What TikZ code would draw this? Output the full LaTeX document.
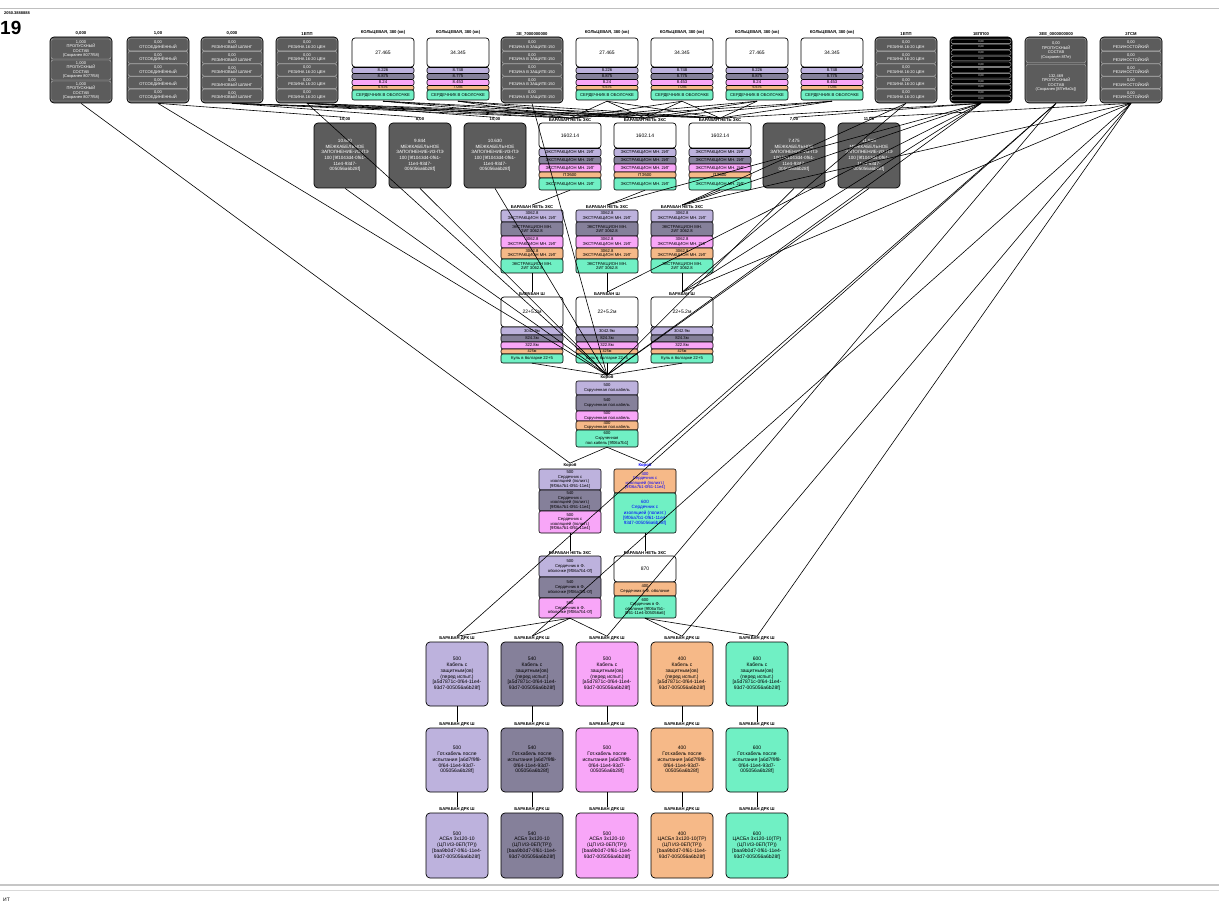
\documentclass[tikz,border=0pt]{standalone}
\usepackage{fontspec}
\setmainfont{Liberation Sans}
\usetikzlibrary{positioning}
\definecolor{lav}{HTML}{BDB2DD}
\definecolor{gp}{HTML}{85809A}
\definecolor{pk}{HTML}{F8A6F8}
\definecolor{org}{HTML}{F6B988}
\definecolor{tl}{HTML}{70F0C4}
\definecolor{dkg}{HTML}{5C5C5C}
\definecolor{frm}{HTML}{B4B4B4}

\begin{document}
\begin{tikzpicture}[x=1pt,y=-1pt,
lbl/.style={font=\fontsize{4.2}{4.6}\selectfont\bfseries,inner sep=0.4pt},
grp/.style={minimum width=62pt,inner sep=0pt},
dkbox/.style={draw,rounded corners=4pt,line width=0.7pt,fill=dkg,text=white,minimum width=62pt,inner sep=0pt,align=center,font=\fontsize{4.6}{5.6}\selectfont},
sub/.style={draw=frm,rounded corners=2pt,line width=0.4pt,fill=dkg,text=white,minimum width=60pt,inner sep=0pt,align=center,font=\fontsize{4}{4.6}\selectfont},
wtop/.style={draw,rounded corners=3pt,line width=0.7pt,fill=white,minimum width=62pt,inner sep=0pt,font=\fontsize{5}{6}\selectfont},
strip/.style={draw,rounded corners=2pt,line width=0.6pt,minimum width=62pt,inner sep=0pt,align=center,font=\fontsize{4.2}{4.6}\selectfont},
big/.style={draw,rounded corners=4pt,line width=0.7pt,minimum width=62pt,minimum height=64pt,inner sep=0pt,align=center,font=\fontsize{5}{5.8}\selectfont},
wire/.style={line width=0.6pt}]
\useasboundingbox (0,0) rectangle (1219,904);

% window frame
\draw[gray!50,line width=0.8pt] (0,8) -- (1219,8);
\node[anchor=west,font=\fontsize{4}{4}\selectfont\bfseries,inner sep=0pt] (ttl) at (4,13) {2050.3888888};
\node[anchor=west,font=\fontsize{19}{19}\selectfont\bfseries,inner sep=0pt] (num) at (0,28) {19};
\draw[gray!45,line width=1.6pt] (0,885) -- (1219,885);
\draw[gray!30,line width=1pt] (0,890) -- (1219,890);
\node[anchor=west,font=\fontsize{5}{5}\selectfont,inner sep=0pt] (itg) at (3,900) {ИТ};

% top row: grey stores with five parts
\foreach \nm/\x/\lab/\txt in {t2/158/{1,00}/{ОТСОЕДИНЁННЫЙ},t3/232/{0,000}/{РЕЗИНОВЫЙ ШЛАНГ},
  t4/307/{1ЕПП}/{РЕЗИНА 16-20 ЦЕН},t7/532/{ЗЕ\_7000000000}/{РЕЗИНА В ЗАЩИТЕ-150},
  t12/906/{1ЕПП}/{РЕЗИНА 16-20 ЦЕН},t15/1131/{2ГСМ}/{РЕЗИНОСТОЙКИЙ}}{
  \node[dkbox,minimum height=66pt] (\nm) at (\x,70) {};
  \node[lbl,above=0.5pt of \nm] (\nm-l) {\lab};
  \foreach \y [count=\i] in {44.8,57.4,70,82.6,95.2}
    \node[sub,minimum height=12pt] (\nm-\i) at (\x,\y) {0,00\\\txt};
}
% top row: three part store
\node[dkbox,minimum height=66pt] (t1) at (81,70) {};
\node[lbl,above=0.5pt of t1] (t1-l) {0,000};
\foreach \y [count=\i] in {49,70,91}
  \node[sub,minimum height=20pt] (t1-\i) at (81,\y) {1,000\\ПРОПУСКНЫЙ\\СОСТАВ\\(Сохранен 8077f58)};
% top row: striped store
\node[dkbox,fill=black,minimum height=66pt] (t13) at (981,70) {};
\node[lbl,above=0.5pt of t13] (t13-l) {1ЕПП00};
\foreach \y [count=\i] in {41.4,47.1,52.8,58.6,64.3,70.0,75.7,81.4,87.2,92.9,98.6}
  \node[sub,fill=black,draw=white!75!black,minimum height=4.6pt,font=\fontsize{2.8}{3}\selectfont] (t13-\i) at (981,\y) {0,00};
% top row: two part store
\node[dkbox,minimum height=66pt] (t14) at (1056,70) {};
\node[lbl,above=0.5pt of t14] (t14-l) {ЗЕЕ\_0000000000};
\node[sub,minimum height=24pt] (t14-1) at (1056,50.5) {0,00\\ПРОПУСКНЫЙ\\СОСТАВ\\(Сохранен 8f7e)};
\node[sub,minimum height=37pt] (t14-2) at (1056,83) {132,469\\ПРОПУСКНЫЙ\\СОСТАВ\\(Сохранен [8f7e9a0c])};

% top row: white drums
\foreach \nm/\x/\val/\va/\vb/\vc/\vd in {t5/383/27.465/8.226/8.875/8.24/6.676,t6/458/34.345/8.748/8.775/8.453/7.036,
  t8/607/27.465/8.226/8.875/8.24/6.676,t9/682/34.345/8.748/8.775/8.453/7.036,
  t10/757/27.465/8.226/8.875/8.24/6.676,t11/832/34.345/8.748/8.775/8.453/7.036}{
  \node[grp,minimum height=64pt] (\nm) at (\x,69) {};
  \node[lbl,above=1.5pt of \nm] (\nm-l) {КОЛЬЦЕВАЯ, 380 (кв)};
  \node[wtop,minimum height=29pt] (\nm-w) at (\x,52.5) {\val};
  \node[strip,fill=lav,minimum height=6pt] (\nm-1) at (\x,70.5) {\va};
  \node[strip,fill=gp,minimum height=6pt] (\nm-2) at (\x,76.5) {\vb};
  \node[strip,fill=pk,minimum height=6pt] (\nm-3) at (\x,82.5) {\vc};
  \node[strip,fill=org,minimum height=4.5pt,font=\fontsize{3.6}{4}\selectfont] (\nm-4) at (\x,87.75) {\vd};
  \node[strip,fill=tl,minimum height=10pt] (\nm-5) at (\x,95) {СЕРДЕЧНИК В ОБОЛОЧКЕ};
}

% second row: filler stores
\foreach \nm/\x/\lab/\val in {s1/345/{10,00}/10.630,s2/420/{8,00}/9.844,s3/495/{10,00}/10.630,
  s7/794/{7,00}/7.475,s8/869/{11,00}/11.915}{
  \node[dkbox,minimum height=65pt] (\nm) at (\x,155.5) {\val\\МЕЖКАБЕЛЬНОЕ\\ЗАПОЛНЕНИЕ-ИЗ-ПЭ\\100 [9f1043d4-0f61-\\11e4-93d7-\\005056a6b28f]};
  \node[lbl,above=0.5pt of \nm] (\nm-l) {\lab};
}
% second row: drums
\foreach \nm/\x in {s4/570,s5/645,s6/720}{
  \node[grp,minimum height=67pt] (\nm) at (\x,156.5) {};
  \node[lbl,above=0.5pt of \nm] (\nm-l) {БАРАБАН НЕТЬ ЗКС};
  \node[wtop,minimum height=25pt] (\nm-w) at (\x,135.5) {1602.14};
  \node[strip,fill=lav,minimum height=8pt] (\nm-1) at (\x,152.5) {ЭКСТРАКЦИОН МН. 2ИГ};
  \node[strip,fill=gp,minimum height=7.5pt] (\nm-2) at (\x,160.25) {ЭКСТРАКЦИОН МН. 2ИГ};
  \node[strip,fill=pk,minimum height=8pt] (\nm-3) at (\x,168) {ЭКСТРАКЦИОН МН. 2ИГ};
  \node[strip,fill=org,minimum height=6pt] (\nm-4) at (\x,175) {ПЭ500};
  \node[strip,fill=tl,minimum height=12pt] (\nm-5) at (\x,184) {ЭКСТРАКЦИОН МН. 2ИГ};
}

% third row
\foreach \nm/\x in {c1/532,c2/607,c3/682}{
  \node[grp,minimum height=63pt] (\nm) at (\x,241.5) {};
  \node[lbl,above=0.5pt of \nm] (\nm-l) {БАРАБАН НЕТЬ ЗКС};
  \node[strip,fill=lav,minimum height=12pt] (\nm-1) at (\x,216) {3062.8\\ЭКСТРАКЦИОН МН. 2ИГ};
  \node[strip,fill=gp,minimum height=14pt] (\nm-2) at (\x,229) {ЭКСТРАКЦИОН МН.\\2ИГ 3062.8};
  \node[strip,fill=pk,minimum height=12pt] (\nm-3) at (\x,242) {3062.8\\ЭКСТРАКЦИОН МН. 2ИГ};
  \node[strip,fill=org,minimum height=11pt] (\nm-4) at (\x,253.5) {3062.8\\ЭКСТРАКЦИОН МН. 2ИГ};
  \node[strip,fill=tl,minimum height=14pt] (\nm-5) at (\x,266) {ЭКСТРАКЦИОН МН.\\2ИГ 3062.8};
}

% fourth row
\foreach \nm/\x in {d1/532,d2/607,d3/682}{
  \node[grp,minimum height=66pt] (\nm) at (\x,330) {};
  \node[lbl,above=0.5pt of \nm] (\nm-l) {БАРАБАН Ш};
  \node[wtop,minimum height=30pt] (\nm-w) at (\x,312) {22+5.2м};
  \node[strip,fill=lav,minimum height=8pt] (\nm-1) at (\x,331) {3042.9м};
  \node[strip,fill=gp,minimum height=7pt] (\nm-2) at (\x,338.5) {824.3м};
  \node[strip,fill=pk,minimum height=7pt] (\nm-3) at (\x,345.5) {322.8м};
  \node[strip,fill=org,minimum height=5pt,font=\fontsize{3.8}{4}\selectfont] (\nm-4) at (\x,351.5) {425м};
  \node[strip,fill=tl,minimum height=9pt] (\nm-5) at (\x,358.5) {Куль в болгарке 22+5};
}

% box
\node[grp,minimum height=66pt] (kb) at (607,414) {};
\node[lbl,above=0.5pt of kb] (kb-l) {Короб};
\node[strip,fill=lav,minimum height=14pt] (kb-1) at (607,388) {500\\Скрученная пол.кабель};
\node[strip,fill=gp,minimum height=16pt] (kb-2) at (607,403) {540\\Скрученная пол.кабель};
\node[strip,fill=pk,minimum height=10pt] (kb-3) at (607,416) {500\\Скрученная пол.кабель};
\node[strip,fill=org,minimum height=9pt] (kb-4) at (607,425.5) {400\\Скрученная пол.кабель};
\node[strip,fill=tl,minimum height=17pt] (kb-5) at (607,438.5) {600\\Скрученная\\пол.кабель [9f06a7b1]};

% cores
\node[grp,minimum height=64pt] (p1) at (570,501) {};
\node[lbl,above=0.5pt of p1] (p1-l) {Короб};
\node[strip,fill=lav,minimum height=21pt] (p1-1) at (570,479.5) {500\\Сердечник с\\изоляцией (полиэт.)\\{[9f06a7b1-0f61-11e4]}};
\node[strip,fill=gp,minimum height=21pt] (p1-2) at (570,500.5) {540\\Сердечник с\\изоляцией (полиэт.)\\{[9f06a7b1-0f61-11e4]}};
\node[strip,fill=pk,minimum height=22pt] (p1-3) at (570,522) {500\\Сердечник с\\изоляцией (полиэт.)\\{[9f06a7b1-0f61-11e4]}};
\node[grp,minimum height=64pt] (p2) at (645,501) {};
\node[lbl,above=0.5pt of p2,text=blue] (p2-l) {Короб};
\node[strip,fill=org,minimum height=24pt,text=blue] (p2-1) at (645,481) {400\\Сердечник с\\изоляцией (полиэт.)\\{[9f06a7b1-0f61-11e4]}};
\node[strip,fill=tl,minimum height=40pt,text=blue,font=\fontsize{4.6}{5.4}\selectfont] (p2-2) at (645,513) {600\\Сердечник с\\изоляцией (полиэт.)\\{[9f06a7b1-0f61-11e4-}\\93d7-005056a6b28f]};

% sheathed cores
\node[grp,minimum height=62pt] (q1) at (570,587) {};
\node[lbl,above=0.5pt of q1] (q1-l) {БАРАБАН НЕТЬ ЗКС};
\node[strip,fill=lav,minimum height=21pt] (q1-1) at (570,566.5) {500\\Сердечник в Ф.\\оболочке [9f06a7b1-0f]};
\node[strip,fill=gp,minimum height=21pt] (q1-2) at (570,587.5) {540\\Сердечник в Ф.\\оболочке [9f06a7b1-0f]};
\node[strip,fill=pk,minimum height=20pt] (q1-3) at (570,608) {500\\Сердечник в Ф.\\оболочке [9f06a7b1-0f]};
\node[grp,minimum height=62pt] (q2) at (645,587) {};
\node[lbl,above=0.5pt of q2] (q2-l) {БАРАБАН НЕТЬ ЗКС};
\node[wtop,minimum height=26pt] (q2-w) at (645,569) {870};
\node[strip,fill=org,minimum height=14pt] (q2-1) at (645,589) {400\\Сердечник в Ф. оболочке};
\node[strip,fill=tl,minimum height=22pt] (q2-2) at (645,607) {600\\Сердечник в Ф.\\оболочке [9f06a7b1-\\0f61-11e4-005056a6]};

% cable drums
\foreach \i/\x/\col/\val/\cab in {1/457/lav/500/{АСБл 3х120-10},2/532/gp/540/{АСБл 3х120-10},
  3/607/pk/500/{АСБл 3х120-10},4/682/org/400/{ЦАСБл 3х120-10(ТР)},5/757/tl/600/{ЦАСБл 3х120-10(ТР)}}{
  \node[big,fill=\col] (b\i) at (\x,674) {\val\\Кабель с\\защитным(ов)\\(перед испыт.)\\{[a5d7871c-0f64-11e4-}\\93d7-005056a6b28f]};
  \node[lbl,above=0.5pt of b\i] (b\i-l) {БАРАБАН ДРК Ш};
  \node[big,fill=\col] (g\i) at (\x,760) {\val\\Гот.кабель после\\испытания [a6d7f9f8-\\0f64-11e4-93d7-\\005056a6b28f]};
  \node[lbl,above=0.5pt of g\i] (g\i-l) {БАРАБАН ДРК Ш};
  \node[big,fill=\col,minimum height=65pt] (a\i) at (\x,845.5) {\val\\\cab\\(ЦП ИЗ-0ЕП(ТР))\\{[baa9b0d7-0f61-11e4-}\\93d7-005056a6b28f]};
  \node[lbl,above=0.5pt of a\i] (a\i-l) {БАРАБАН ДРК Ш};
  \draw[wire] (b\i.south) -- (g\i-l.north);
  \draw[wire] (g\i.south) -- (a\i-l.north);
}

% links
\foreach \src/\dst in {t1/p1,t2/kb,t2/s1,t3/s2,t4/s3,t4/kb,t7/kb,
  t3/s4,t3/s5,t3/s6,t4/s4,t4/s5,t4/s6,t5/s4,t5/s5,t5/s6,t6/s4,t6/s5,t6/s6,
  t8/s4,t8/s5,t8/s6,t9/s4,t9/s5,t9/s6,t10/s4,t10/s5,t10/s6,t11/s4,t11/s5,t11/s6,
  s1/kb,s2/kb,s3/kb,s7/kb,s8/kb,s4/c1,s5/c2,s6/c3,c1/d1,c2/d2,c3/d3,d1/kb,d2/kb,d3/kb,
  t12/c3,t12/d3,t13/s6,t13/s7,t13/c2,t13/c3,t13/d2,t13/d3,t13/kb,
  t14/p2,t14/b1,t15/s8,t15/c3,t15/d3,t15/b2,t14/b3,t15/b4,t15/b5,
  kb/p1,kb/p2,p1/q1,p2/q2,q1/b1,q1/b2,q1/b3,q2/b4,q2/b5}
  \draw[wire] (\src.south) -- (\dst-l.north);
\end{tikzpicture}
\end{document}
